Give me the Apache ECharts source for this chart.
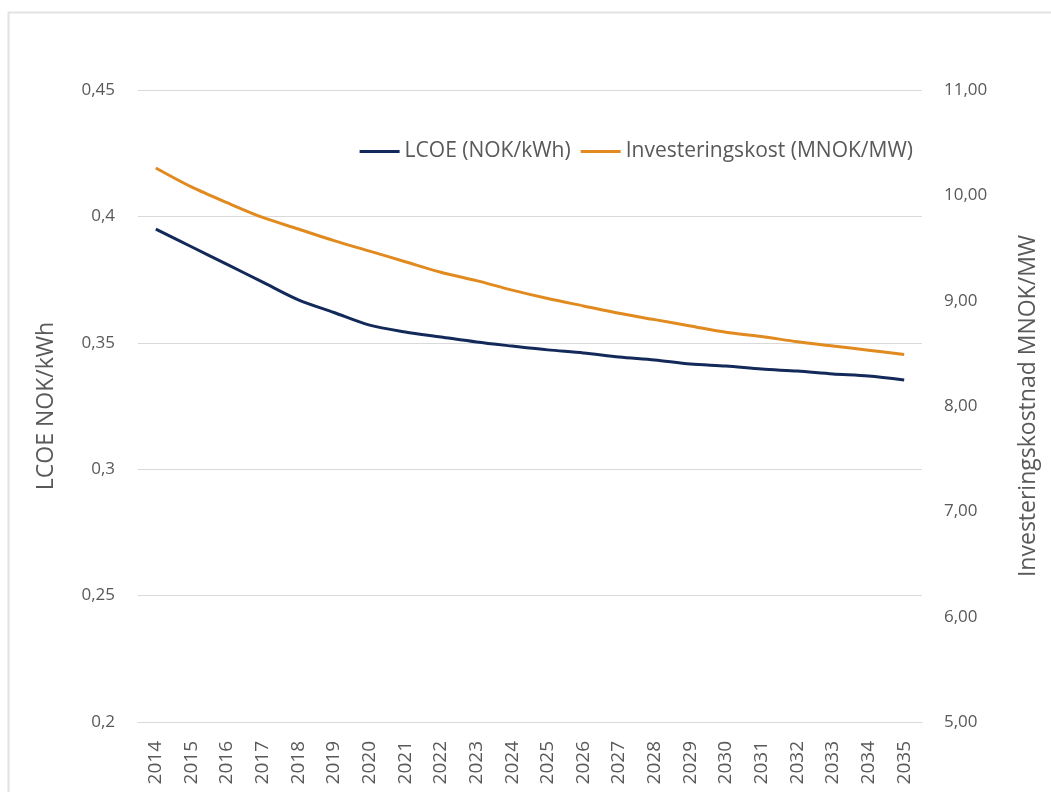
<!DOCTYPE html>
<html>
<head>
<meta charset="utf-8">
<script src="https://cdn.jsdelivr.net/npm/echarts@6/dist/echarts.min.js"></script>
<style>
  html, body { margin: 0; padding: 0; background: #fff; }
  #chart { width: 1051px; height: 792px; }
</style>
</head>
<body>
<div id="chart"></div>
<script>
// years on the x axis
var years = ['2014', '2015', '2016', '2017', '2018', '2019', '2020', '2021', '2022', '2023', '2024',
  '2025', '2026', '2027', '2028', '2029', '2030', '2031', '2032', '2033', '2034', '2035']
// LCOE (NOK/kWh), left axis
var lcoe = [0.395, 0.388, 0.381, 0.374, 0.367, 0.362, 0.357, 0.3543, 0.3523, 0.3503, 0.3487,
  0.3472, 0.346, 0.3444, 0.3432, 0.3416, 0.3408, 0.3396, 0.3388, 0.3377, 0.3369, 0.3353]
// Investeringskostnad (MNOK/MW), right axis
var invest = [10.26, 10.08, 9.93, 9.79, 9.68, 9.57, 9.47, 9.37, 9.27, 9.19, 9.10,
  9.02, 8.95, 8.88, 8.82, 8.76, 8.70, 8.66, 8.61, 8.57, 8.53, 8.49]
var leftTicks = { min: 0.2, max: 0.45, step: 0.05 }
var rightTicks = { min: 5, max: 11, step: 1 }

var navy = '#13295a'
var orange = '#e08a1f'
var grey = '#595959'
var font = 'Open Sans'

var myChart = echarts.init(document.getElementById('chart'))
var option = {
  animation: false,
  backgroundColor: '#fff',
  graphic: [{
    type: 'rect',
    shape: { x: 8.5, y: 12.5, width: 1100, height: 900 },
    style: { fill: 'none', stroke: '#e2e2e2', lineWidth: 2 },
    silent: true
  }],
  legend: {
    right: 133,
    top: 136,
    itemWidth: 40,
    itemHeight: 3,
    itemGap: 10,
    icon: 'rect',
    textStyle: { color: grey, fontSize: 21, fontFamily: font },
    data: ['LCOE (NOK/kWh)', 'Investeringskost (MNOK/MW)']
  },
  grid: { left: 138, right: 129, top: 90, bottom: 70 },
  xAxis: {
    type: 'category',
    data: years,
    boundaryGap: true,
    axisLine: { show: true, lineStyle: { color: '#d9d9d9' } },
    axisTick: { show: false },
    axisLabel: {
      rotate: 90,
      interval: 0,
      color: grey,
      fontSize: 19,
      fontFamily: font,
      margin: 19
    }
  },
  yAxis: [{
    type: 'value',
    min: leftTicks.min,
    max: leftTicks.max,
    interval: leftTicks.step,
    position: 'left',
    name: 'LCOE NOK/kWh',
    nameLocation: 'middle',
    nameGap: 80,
    nameTextStyle: { color: grey, fontSize: 23, fontFamily: font },
    axisLine: { show: false },
    axisTick: { show: false },
    splitLine: { lineStyle: { color: '#d9d9d9' } },
    axisLabel: {
      color: grey,
      fontSize: 17,
      fontFamily: font,
      margin: 23,
      formatter: function (v) { return String(Math.round(v * 100) / 100).replace('.', ',') }
    }
  }, {
    type: 'value',
    min: rightTicks.min,
    max: rightTicks.max,
    interval: rightTicks.step,
    position: 'right',
    name: 'Investeringskostnad MNOK/MW',
    nameLocation: 'middle',
    nameGap: 95,
    nameTextStyle: { color: grey, fontSize: 23, fontFamily: font },
    axisLine: { show: false },
    axisTick: { show: false },
    splitLine: { show: false },
    axisLabel: {
      color: grey,
      fontSize: 17,
      fontFamily: font,
      margin: 22,
      formatter: function (v) { return v.toFixed(2).replace('.', ',') }
    }
  }],
  series: [{
    name: 'LCOE (NOK/kWh)',
    type: 'line',
    yAxisIndex: 0,
    data: lcoe,
    symbol: 'none',
    smooth: 0.3,
    color: navy,
    lineStyle: { width: 3, color: navy }
  }, {
    name: 'Investeringskost (MNOK/MW)',
    type: 'line',
    yAxisIndex: 1,
    data: invest,
    symbol: 'none',
    smooth: 0.3,
    color: orange,
    lineStyle: { width: 3, color: orange }
  }]
}
myChart.setOption(option)
</script>
</body>
</html>
